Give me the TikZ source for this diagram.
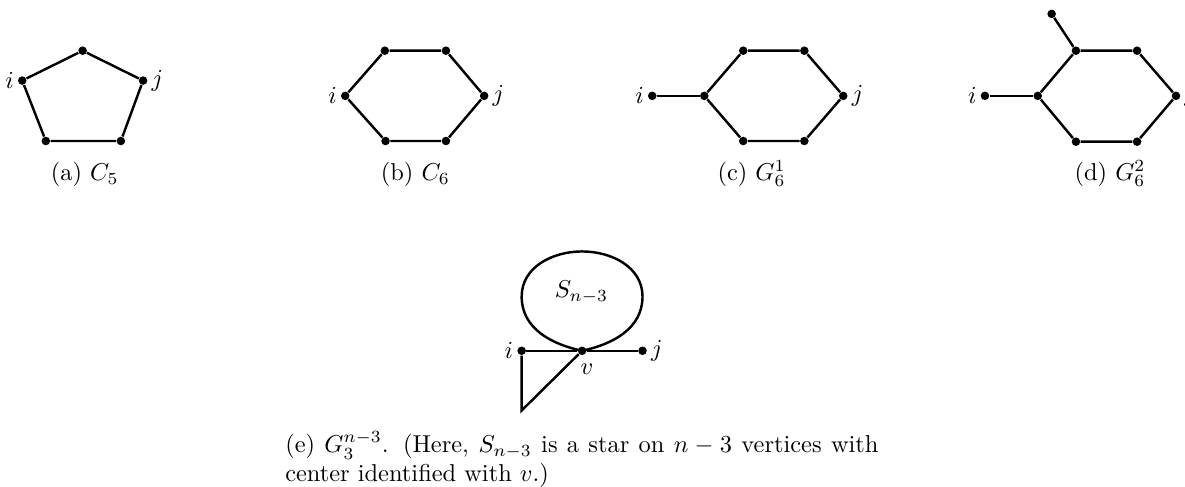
\documentclass[tikz,border=0pt]{standalone}
\begin{document}
\begin{tikzpicture}[
  vtx/.style={circle,fill=black,inner sep=0pt,minimum size=3.5pt},
  edge/.style={line width=1pt},
  every label/.style={label distance=-2pt},
  subcap/.style={anchor=base,inner sep=0pt}]
\useasboundingbox (0,0) rectangle (17.06,7.01);

% (a) C_5
\node[vtx] (a1) at (1.19,6.28) {};
\node[vtx,label=right:$j$] (a2) at (2.06,5.85) {};
\node[vtx] (a3) at (1.74,4.98) {};
\node[vtx] (a4) at (0.66,4.98) {};
\node[vtx,label=left:$i$] (a5) at (0.32,5.85) {};
\draw[edge] (a1) -- (a2) -- (a3) -- (a4) -- (a5) -- (a1);
\node[subcap] (capa) at (1.22,4.41) {(a) $C_5$};

% (b) C_6
\node[vtx] (b1) at (5.54,6.28) {};
\node[vtx] (b2) at (6.42,6.28) {};
\node[vtx,label=right:$j$] (b3) at (6.97,5.63) {};
\node[vtx] (b4) at (6.42,4.98) {};
\node[vtx] (b5) at (5.55,4.98) {};
\node[vtx,label=left:$i$] (b6) at (4.97,5.63) {};
\draw[edge] (b1) -- (b2) -- (b3) -- (b4) -- (b5) -- (b6) -- (b1);
\node[subcap] (capb) at (5.98,4.41) {(b) $C_6$};

% (c) G_6^1
\node[vtx,label=left:$i$] (ci) at (9.39,5.63) {};
\node[vtx] (c1) at (10.14,5.63) {};
\node[vtx] (c2) at (10.70,6.28) {};
\node[vtx] (c3) at (11.58,6.28) {};
\node[vtx,label=right:$j$] (c4) at (12.14,5.63) {};
\node[vtx] (c5) at (11.58,4.98) {};
\node[vtx] (c6) at (10.70,4.98) {};
\draw[edge] (ci) -- (c1);
\draw[edge] (c1) -- (c2) -- (c3) -- (c4) -- (c5) -- (c6) -- (c1);
\node[subcap] (capc) at (10.82,4.41) {(c) $G_6^1$};

% (d) G_6^2
\node[vtx,label=left:$i$] (di) at (14.18,5.63) {};
\node[vtx] (dp) at (15.14,6.81) {};
\node[vtx] (d1) at (14.94,5.63) {};
\node[vtx] (d2) at (15.49,6.28) {};
\node[vtx] (d3) at (16.37,6.28) {};
\node[vtx,label=right:$j$] (d4) at (16.93,5.63) {};
\node[vtx] (d5) at (16.37,4.97) {};
\node[vtx] (d6) at (15.49,4.97) {};
\draw[edge] (di) -- (d1);
\draw[edge] (dp) -- (d2);
\draw[edge] (d1) -- (d2) -- (d3) -- (d4) -- (d5) -- (d6) -- (d1);
\node[subcap] (capd) at (15.98,4.41) {(d) $G_6^2$};

% (e) G_3^{n-3}
\node[vtx,label=left:$i$] (ei) at (7.51,1.96) {};
\node[vtx,label={[xshift=2pt,label distance=0pt]below:$v$}] (ev) at (8.38,1.96) {};
\node[vtx,label=right:$j$] (ej) at (9.25,1.96) {};
\coordinate (eb) at (7.51,1.10);
\coordinate (sl) at (7.51,2.74);
\coordinate (st) at (8.38,3.39);
\coordinate (sr) at (9.25,2.74);
\draw[edge] (ei) -- (ev) -- (ej);
\draw[edge] (ei) -- (eb) -- (ev);
\draw[edge] (ev.center) to[out=168,in=-90] (sl) to[out=90,in=180] (st)
  to[out=0,in=90] (sr) to[out=-90,in=12] (ev.center);
\node (star) at (8.37,2.80) {$S_{n-3}$};
\node[anchor=north west,inner sep=0pt,text width=243pt,align=justify] (cape) at (4.10,0.81)
  {(e) $G_3^{n-3}$.  (Here, $S_{n-3}$ is a star on $n-3$ vertices with center identified with $v$.)};
\end{tikzpicture}
\end{document}
